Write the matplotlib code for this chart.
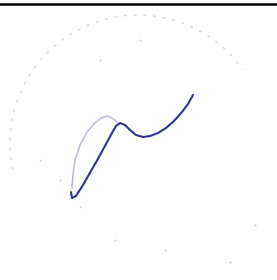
import numpy as np
import matplotlib.pyplot as plt
from matplotlib.patches import Arc

# coordonnees (repere pixel, y vers le bas)
trace_x = [71, 72, 76, 83, 91, 99, 106, 112, 116, 120, 125, 130, 136, 143, 150, 158, 166, 174, 182, 188, 193]
trace_y = [192, 198, 196, 185, 171, 157, 144, 133, 126, 123, 125, 130, 135, 137, 136, 133, 128, 121, 112, 104, 95]

arc_x = [72, 73, 75, 80, 87, 94, 101, 107, 112, 117]
arc_y = [188, 174, 160, 145, 132, 124, 118, 116, 118, 122]

points_x = [60, 80, 115, 165, 230, 255, 40, 100, 140]
points_y = [180, 207, 240, 250, 262, 225, 160, 60, 40]

fig = plt.figure(figsize=(2.77, 2.80), dpi=100)
ax = fig.add_axes([0, 0, 1, 1])
ax.set_xlim(0, 277)
ax.set_ylim(280, 0)
ax.axis("off")

# arc pointille tres pale (seule la partie haute est visible)
arc = Arc((138, 143), 256, 256, theta1=168, theta2=325, edgecolor="#b3d6df",
          linestyle=(0, (2, 5)), linewidth=1.0, alpha=0.75)
ax.add_patch(arc)

ax.scatter(points_x, points_y, s=2, c="#cfcfcf", linewidths=0)

# courbe
ax.plot(arc_x, arc_y, color="#8f98c9", linewidth=1.1, alpha=0.65,
        solid_capstyle="round")
ax.plot(trace_x, trace_y, color="#2f3592", linewidth=1.5,
        solid_capstyle="round", solid_joinstyle="round")

# bord haut du cadre
ax.plot([0, 277], [3.5, 3.5], color="black", linewidth=1.8)

fig.savefig("out.png", dpi=100)
